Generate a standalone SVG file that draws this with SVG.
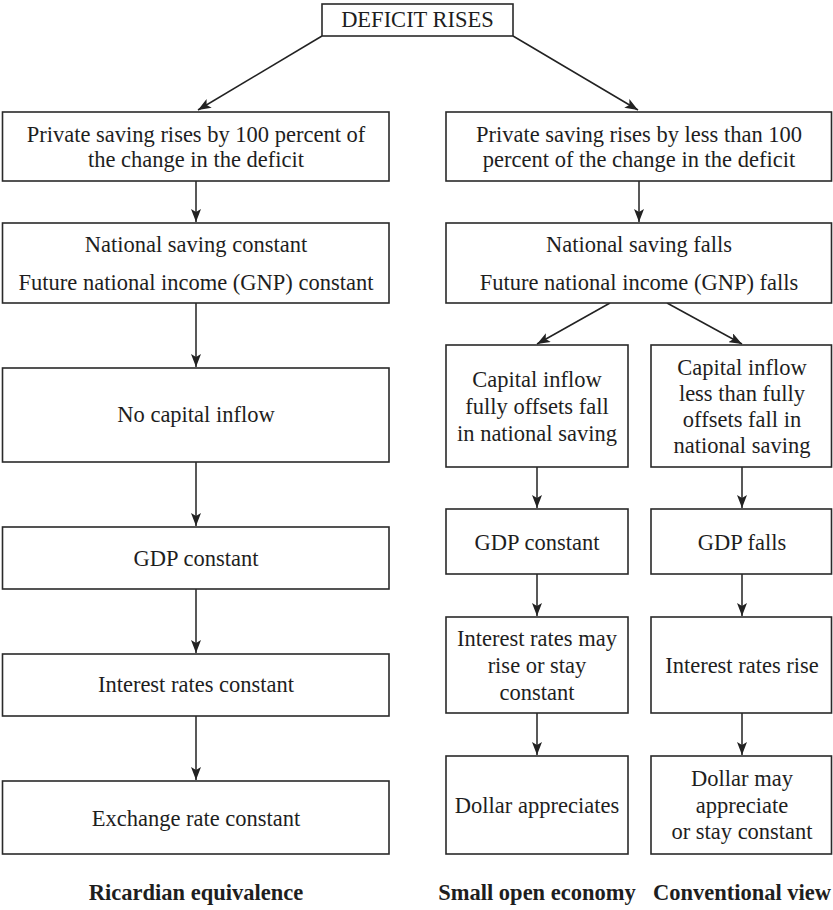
<svg xmlns="http://www.w3.org/2000/svg" width="833" height="910" viewBox="0 0 833 910">
<style>
.box{fill:#fff;stroke:#2a2a2a;stroke-width:1.6}
.t{font-family:"Liberation Serif","Times New Roman",serif;font-size:22.5px;fill:#1e1e1e;text-anchor:middle}
.b{font-family:"Liberation Serif","Times New Roman",serif;font-size:22.5px;font-weight:bold;fill:#1e1e1e;text-anchor:middle}
.c{fill:none;stroke:#222;stroke-width:1.5}
</style>
<defs>
<marker id="ah" markerUnits="userSpaceOnUse" markerWidth="14" markerHeight="10" refX="13" refY="5" orient="auto">
<path d="M0,0 L13,5 L0,10 L3,5 z" fill="#222"/>
</marker>
</defs>
<rect width="833" height="910" fill="#fff"/>
<g id="connectors">
<line class="c" x1="322" y1="36" x2="198" y2="110" marker-end="url(#ah)"/>
<line class="c" x1="513" y1="36" x2="638" y2="110" marker-end="url(#ah)"/>
<line class="c" x1="196" y1="181" x2="196" y2="222" marker-end="url(#ah)"/>
<line class="c" x1="196" y1="303" x2="196" y2="367" marker-end="url(#ah)"/>
<line class="c" x1="196" y1="462" x2="196" y2="526" marker-end="url(#ah)"/>
<line class="c" x1="196" y1="589" x2="196" y2="653" marker-end="url(#ah)"/>
<line class="c" x1="196" y1="716" x2="196" y2="780" marker-end="url(#ah)"/>
<line class="c" x1="639" y1="181" x2="639" y2="222" marker-end="url(#ah)"/>
<line class="c" x1="610" y1="303" x2="537" y2="344" marker-end="url(#ah)"/>
<line class="c" x1="667" y1="303" x2="742" y2="344" marker-end="url(#ah)"/>
<line class="c" x1="537" y1="467" x2="537" y2="508" marker-end="url(#ah)"/>
<line class="c" x1="537" y1="574" x2="537" y2="616" marker-end="url(#ah)"/>
<line class="c" x1="537" y1="713" x2="537" y2="755" marker-end="url(#ah)"/>
<line class="c" x1="742" y1="467" x2="742" y2="508" marker-end="url(#ah)"/>
<line class="c" x1="742" y1="574" x2="742" y2="616" marker-end="url(#ah)"/>
<line class="c" x1="742" y1="713" x2="742" y2="755" marker-end="url(#ah)"/>
</g>
<g id="deficit"><rect class="box" x="322" y="4" width="191" height="32"/><text class="t" x="417.5" y="27">DEFICIT RISES</text></g>
<g id="L1"><rect class="box" x="2.5" y="112" width="386.5" height="69"/><text class="t" x="196" y="142">Private saving rises by 100 percent of</text><text class="t" x="196" y="167">the change in the deficit</text></g>
<g id="L2"><rect class="box" x="2.5" y="223" width="386.5" height="80"/><text class="t" x="196" y="252">National saving constant</text><text class="t" x="196" y="290">Future national income (GNP) constant</text></g>
<g id="L3"><rect class="box" x="2.5" y="368" width="386.5" height="94"/><text class="t" x="196" y="422">No capital inflow</text></g>
<g id="L4"><rect class="box" x="2.5" y="527" width="386.5" height="62"/><text class="t" x="196" y="566">GDP constant</text></g>
<g id="L5"><rect class="box" x="2.5" y="654" width="386.5" height="62"/><text class="t" x="196" y="692">Interest rates constant</text></g>
<g id="L6"><rect class="box" x="2.5" y="781" width="386.5" height="73"/><text class="t" x="196" y="826">Exchange rate constant</text></g>
<g id="R1"><rect class="box" x="446" y="112" width="385.5" height="69"/><text class="t" x="639" y="142">Private saving rises by less than 100</text><text class="t" x="639" y="167">percent of the change in the deficit</text></g>
<g id="R2"><rect class="box" x="446" y="223" width="385.5" height="80"/><text class="t" x="639" y="252">National saving falls</text><text class="t" x="639" y="290">Future national income (GNP) falls</text></g>
<g id="S1"><rect class="box" x="446" y="345" width="182" height="122"/><text class="t" x="537" y="387">Capital inflow</text><text class="t" x="537" y="414">fully offsets fall</text><text class="t" x="537" y="441">in national saving</text></g>
<g id="S2"><rect class="box" x="446" y="509" width="182" height="65"/><text class="t" x="537" y="550">GDP constant</text></g>
<g id="S3"><rect class="box" x="446" y="617" width="182" height="96"/><text class="t" x="537" y="646">Interest rates may</text><text class="t" x="537" y="673">rise or stay</text><text class="t" x="537" y="700">constant</text></g>
<g id="S4"><rect class="box" x="446" y="756" width="182" height="98"/><text class="t" x="537" y="813">Dollar appreciates</text></g>
<g id="C1"><rect class="box" x="651" y="345" width="180.5" height="122"/><text class="t" x="742" y="375">Capital inflow</text><text class="t" x="742" y="401">less than fully</text><text class="t" x="742" y="427">offsets fall in</text><text class="t" x="742" y="453">national saving</text></g>
<g id="C2"><rect class="box" x="651" y="509" width="180.5" height="65"/><text class="t" x="742" y="550">GDP falls</text></g>
<g id="C3"><rect class="box" x="651" y="617" width="180.5" height="96"/><text class="t" x="742" y="673">Interest rates rise</text></g>
<g id="C4"><rect class="box" x="651" y="756" width="180.5" height="98"/><text class="t" x="742" y="786">Dollar may</text><text class="t" x="742" y="813">appreciate</text><text class="t" x="742" y="839">or stay constant</text></g>
<g id="labels">
<text class="b" x="196" y="900">Ricardian equivalence</text>
<text class="b" x="537" y="900">Small open economy</text>
<text class="b" x="742" y="900">Conventional view</text>
</g>
</svg>
